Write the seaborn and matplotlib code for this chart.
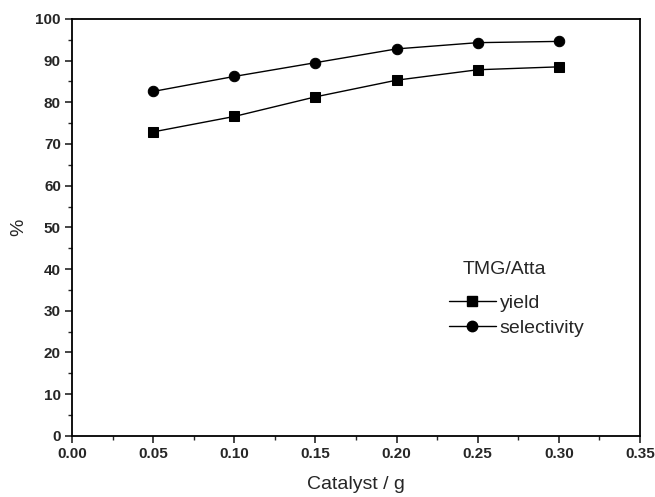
import matplotlib
matplotlib.use("Agg")
import matplotlib.pyplot as plt
import seaborn as sns
import pandas as pd
from matplotlib.ticker import MultipleLocator, FormatStrFormatter
from matplotlib.lines import Line2D

catalyst = [0.05, 0.10, 0.15, 0.20, 0.25, 0.30]
yield_vals = [72.9, 76.6, 81.3, 85.3, 87.8, 88.5]
selectivity_vals = [82.6, 86.2, 89.5, 92.8, 94.3, 94.6]
series_names = ["yield", "selectivity"]
legend_title = "TMG/Atta"

df = pd.DataFrame({
    "x": catalyst * 2,
    "y": yield_vals + selectivity_vals,
    "series": [series_names[0]] * len(catalyst) + [series_names[1]] * len(catalyst),
})

sns.set_theme(style="ticks")
plt.rcParams["font.family"] = ["Liberation Sans", "DejaVu Sans"]

fig = plt.figure(figsize=(6.55, 4.97), dpi=100)
ax = fig.add_axes([0.11, 0.123, 0.867, 0.839])

markers = {"yield": "s", "selectivity": "o"}
sns.lineplot(data=df, x="x", y="y", style="series", markers=markers, dashes=False,
             color="black", linewidth=1.0, markersize=7, ax=ax, legend=False,
             markeredgecolor="black")
for line in ax.get_lines():
    if line.get_marker() == "s":
        line.set_markersize(6.5)
    elif line.get_marker() == "o":
        line.set_markersize(7.5)

ax.set_xlim(0, 0.35)
ax.set_ylim(0, 100)
ax.xaxis.set_major_locator(MultipleLocator(0.05))
ax.xaxis.set_minor_locator(MultipleLocator(0.025))
ax.yaxis.set_major_locator(MultipleLocator(10))
ax.yaxis.set_minor_locator(MultipleLocator(5))
ax.xaxis.set_major_formatter(FormatStrFormatter("%.2f"))
ax.tick_params(axis="both", which="major", direction="out", length=5, width=1.2,
               labelsize=11, top=False, right=False, pad=3)
ax.tick_params(axis="both", which="minor", direction="out", length=3, width=1.0,
               top=False, right=False)
for lab in ax.get_xticklabels() + ax.get_yticklabels():
    lab.set_fontweight("bold")
for sp in ax.spines.values():
    sp.set_visible(True)
    sp.set_linewidth(1.3)
    sp.set_color("black")

ax.set_xlabel("Catalyst / g", fontsize=14, labelpad=11)
ax.set_ylabel("%", fontsize=14, labelpad=6)

handles = [
    Line2D([], [], color="black", marker="s", markersize=6.5, linewidth=1.0),
    Line2D([], [], color="black", marker="o", markersize=7.5, linewidth=1.0),
]
ax.legend(handles, series_names, loc="center left", bbox_to_anchor=(0.664, 0.288),
          frameon=False, fontsize=14, handlelength=2.4, handletextpad=0.2,
          labelspacing=0.36, borderaxespad=0, borderpad=0)
ax.text(0.688, 0.40, legend_title, transform=ax.transAxes, fontsize=14,
        ha="left", va="center")

fig.savefig("out.png", dpi=100)
